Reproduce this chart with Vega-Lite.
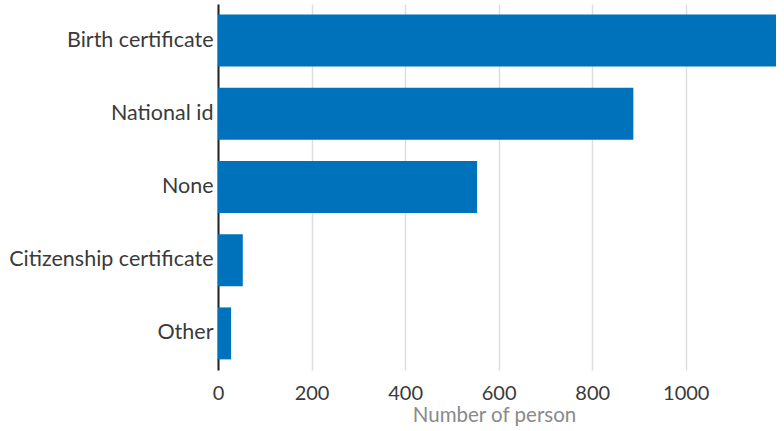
{
  "$schema": "https://vega.github.io/schema/vega-lite/v6.json",
  "width": 558,
  "height": 366,
  "autosize": {"type": "none"},
  "padding": {"left": 218, "top": 4, "right": 8, "bottom": 61},
  "background": "white",
  "config": {"font": "Lato", "view": {"stroke": null}},
  "data": {
    "values": [
      {"type": "Birth certificate", "count": 1193},
      {"type": "National id", "count": 888},
      {"type": "None", "count": 554},
      {"type": "Citizenship certificate", "count": 53},
      {"type": "Other", "count": 28}
    ]
  },
  "mark": {"type": "bar", "color": "#0072bc"},
  "encoding": {
    "y": {
      "field": "type",
      "type": "nominal",
      "sort": null,
      "scale": {"paddingInner": 0.29, "paddingOuter": 0.145},
      "axis": {
        "title": null,
        "ticks": false,
        "labelFontSize": 21.5,
        "labelColor": "#3a3a3a",
        "labelPadding": 5,
        "domainColor": "#222222",
        "domainWidth": 2,
        "labelLimit": 300
      }
    },
    "x": {
      "field": "count",
      "type": "quantitative",
      "scale": {"domain": [0, 1193], "nice": false},
      "axis": {
        "title": "Number of person",
        "titleFontSize": 20.5,
        "titleFontWeight": "normal",
        "titleColor": "#8a8a8a",
        "titlePadding": 2,
        "titleX": 276,
        "labelFontSize": 20,
        "labelColor": "#3a3a3a",
        "labelPadding": 13,
        "labelFlush": false,
        "format": "d",
        "ticks": false,
        "domain": false,
        "values": [0, 200, 400, 600, 800, 1000],
        "gridColor": "#dddddd",
        "gridWidth": 1.5
      }
    }
  }
}
